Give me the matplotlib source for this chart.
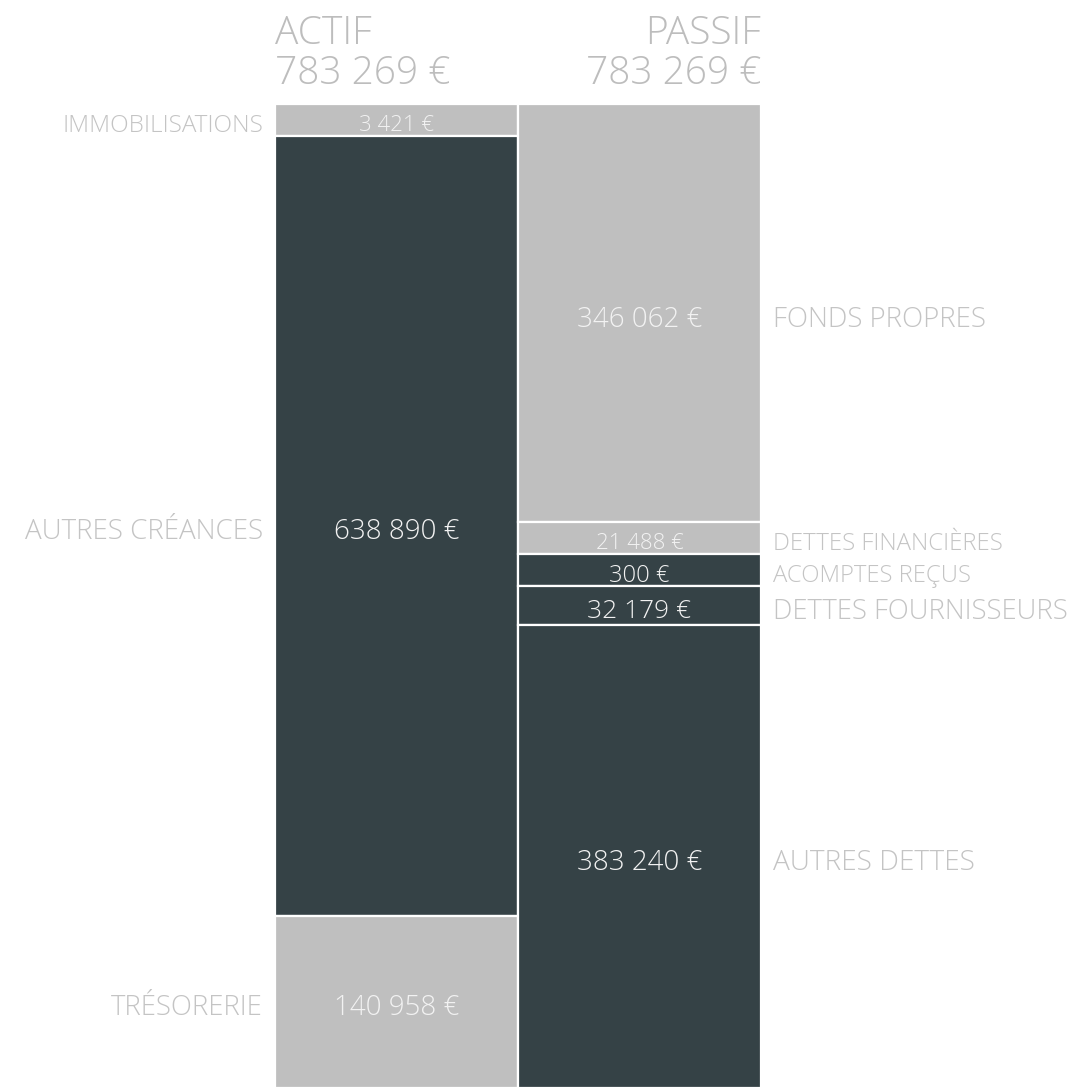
import numpy as np
import matplotlib.pyplot as plt
from matplotlib.transforms import offset_copy

# bilan data
actif_labels = ["IMMOBILISATIONS", "AUTRES CRÉANCES", "TRÉSORERIE"]
actif_values = [3421, 638890, 140958]
passif_labels = ["FONDS PROPRES", "DETTES FINANCIÈRES", "ACOMPTES REÇUS",
                 "DETTES FOURNISSEURS", "AUTRES DETTES"]
passif_values = [346062, 21488, 300, 32179, 383240]

DARK = "#354246"
GREY = "#bfbfbf"
TXT = "#c4c4c4"
actif_colors = [GREY, DARK, GREY]
passif_colors = [GREY, GREY, DARK, DARK, DARK]
actif_vsize = [16, 20, 20]
actif_lsize = [17.5, 20, 19.8]
passif_vsize = [20, 16, 17, 19, 20]
passif_lsize = [19.9, 17.3, 17.2, 19.8, 20.2]

plt.rcParams['font.family'] = ['Open Sans', 'DejaVu Sans']

W, H = 1075, 1088
fig = plt.figure(figsize=(W / 100, H / 100), dpi=100)
x0, x1, ytop = 275, 761, 104
ax = fig.add_axes([x0 / W, 0, (x1 - x0) / W, (H - ytop) / H])
ax.set_xlim(-0.5, 1.5)
ax.axis("off")

total = sum(actif_values)
min_frac = 32 / (H - ytop)


def display_heights(vals):
    # small blocks get a minimum height, the rest share the remaining space
    vals = np.array(vals, dtype=float)
    tot = vals.sum()
    small = vals / tot < min_frac
    h = np.where(small, min_frac * tot, 0.0)
    rest = tot - h.sum()
    h[~small] = vals[~small] / vals[~small].sum() * rest
    return h


def fmt(v):
    return f"{v:,}".replace(",", " ") + " €"


ax.set_ylim(total, 0)
tr = offset_copy(ax.transData, fig=fig, y=-3, units="dots")

for col, (labels, vals, colors, vs, ls) in enumerate([
        (actif_labels, actif_values, actif_colors, actif_vsize, actif_lsize),
        (passif_labels, passif_values, passif_colors, passif_vsize, passif_lsize)]):
    heights = display_heights(vals)
    bottoms = np.concatenate([[0], np.cumsum(heights)[:-1]])
    ax.bar(col, heights, bottom=bottoms, width=1.0, color=colors,
           edgecolor="white", linewidth=1.6, align="center")
    for lab, v, b, h, s1, s2 in zip(labels, vals, bottoms, heights, vs, ls):
        yc = b + h / 2
        ax.text(col, yc, fmt(v), ha="center", va="center_baseline", transform=tr,
                color="#f2f2f2", fontsize=s1, fontweight="light")
        if col == 0:
            ax.text(-0.5 - 12 / 243, yc, lab, ha="right", va="center_baseline",
                    transform=tr, color=TXT, fontsize=s2, fontweight="light")
        else:
            ax.text(1.5 + 12 / 243, yc, lab, ha="left", va="center_baseline",
                    transform=tr, color=TXT, fontsize=s2, fontweight="light")

# headers
hdr = dict(color="#bdbdbd", fontsize=28, fontweight="light")
fig.text(x0 / W, 1 - 44 / H, "ACTIF", ha="left", va="baseline", **hdr)
fig.text(x0 / W, 1 - 84 / H, fmt(sum(actif_values)), ha="left", va="baseline", **hdr)
fig.text(x1 / W, 1 - 44 / H, "PASSIF", ha="right", va="baseline", **hdr)
fig.text(x1 / W, 1 - 84 / H, fmt(sum(passif_values)), ha="right", va="baseline", **hdr)

fig.savefig("out.png", dpi=100, facecolor="white")
